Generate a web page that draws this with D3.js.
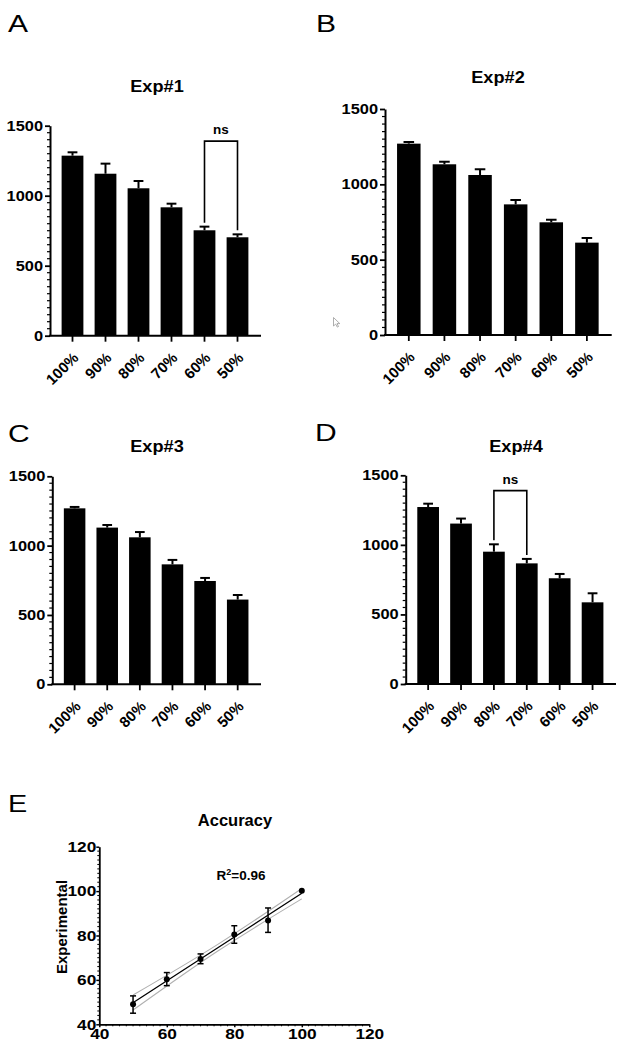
<!DOCTYPE html>
<html><head><meta charset="utf-8">
<script src="https://cdn.jsdelivr.net/npm/d3@7"></script>
<style>
body{margin:0;background:#fff}
svg text{font-family:"Liberation Sans",Arial,Helvetica,sans-serif;fill:#000}
</style>
</head><body>
<svg id="c" width="625" height="1050"></svg>
<script>
// ---------- DATA ----------
const categories = ["100%","90%","80%","70%","60%","50%"];
const barTicks = [0,500,1000,1500];

const exp1Means = [1286,1157,1053,917,753,703];
const exp1Err   = [24,72,52,26,26,21];
const exp2Means = [1270,1133,1062,867,748,613];
const exp2Err   = [11,17,38,29,17,31];
const exp3Means = [1269,1130,1060,865,745,611];
const exp3Err   = [10,19,38,32,22,33];
const exp4Means = [1272,1153,951,867,760,587];
const exp4Err   = [24,36,53,32,31,65];

const exp1NsPair = ["60%","50%"];
const exp4NsPair = ["80%","70%"];
const bracketLevel = 1390;

const accTicks = [40,60,80,100,120];
const expectedPct   = [50,60,70,80,90,100];
const measuredPct   = [49.0,60.3,69.4,80.4,86.8,100.2];
const measuredErrUp = [3.8,3.0,2.3,4.0,5.6,0];
const measuredErrDn = [4.0,2.9,2.1,3.9,5.4,0];
const fitX     = [50,75,100];
const fitY     = [49.7,74.4,99.0];
const bandHiY  = [53.2,75.9,101.2];
const bandLoY  = [46.4,72.9,96.5];

// ---------- HELPERS ----------
const svg = d3.select("#c");
function stretch(sel, k){
  sel.each(function(){
    const L = this.getComputedTextLength();
    d3.select(this).attr("textLength", L*k).attr("lengthAdjust","spacingAndGlyphs");
  });
}

// ---------- BAR PANELS ----------
const panels = [
  {letter:"A", lx:8,   ly:32,  title:"Exp#1", tx:157, ty:92,  means:exp1Means, errs:exp1Err, x0:50,    x1:261,   yTop:125.7, yBot:335.7, ns:exp1NsPair},
  {letter:"B", lx:316, ly:32,  title:"Exp#2", tx:498, ty:83,  means:exp2Means, errs:exp2Err, x0:385,   x1:611.7, yTop:109,   yBot:335,   ns:null},
  {letter:"C", lx:8,   ly:442, title:"Exp#3", tx:157, ty:452, means:exp3Means, errs:exp3Err, x0:52.3,  x1:261,   yTop:476.3, yBot:684.3, ns:null},
  {letter:"D", lx:315, ly:441, title:"Exp#4", tx:516, ty:452, means:exp4Means, errs:exp4Err, x0:405.7, x1:616,   yTop:475.3, yBot:684,   ns:exp4NsPair}
];

panels.forEach(p => {
  const g = svg.append("g");
  const y = d3.scaleLinear().domain([0,1500]).range([p.yBot, p.yTop]);
  const x = d3.scaleBand().domain(categories).range([p.x0+6, p.x1-7]).paddingInner(0.34).paddingOuter(0.17);

  g.append("text").attr("x",p.lx).attr("y",p.ly).attr("font-size",24).text(p.letter).call(stretch,1.25);
  g.append("text").attr("x",p.tx).attr("y",p.ty).attr("text-anchor","middle").attr("font-size",16.5).attr("font-weight","bold").text(p.title).call(stretch,1.1);

  const data = categories.map((c,i)=>({c, m:p.means[i], e:p.errs[i]}));

  g.selectAll("rect.bar").data(data).join("rect")
    .attr("x",d=>x(d.c)).attr("width",x.bandwidth())
    .attr("y",d=>y(d.m)).attr("height",d=>y(0)-y(d.m))
    .attr("fill","#000");
  const cw = x.bandwidth()*0.45;
  g.selectAll("line.err").data(data).join("line")
    .attr("x1",d=>x(d.c)+x.bandwidth()/2).attr("x2",d=>x(d.c)+x.bandwidth()/2)
    .attr("y1",d=>y(d.m)).attr("y2",d=>y(d.m+d.e))
    .attr("stroke","#000").attr("stroke-width",2);
  g.selectAll("line.cap").data(data).join("line")
    .attr("x1",d=>x(d.c)+x.bandwidth()/2-cw/2).attr("x2",d=>x(d.c)+x.bandwidth()/2+cw/2)
    .attr("y1",d=>y(d.m+d.e)).attr("y2",d=>y(d.m+d.e))
    .attr("stroke","#000").attr("stroke-width",2);

  const minor = y.ticks(30).filter(v=>!barTicks.includes(v));
  g.selectAll("line.minor").data(minor).join("line")
    .attr("x1",p.x0-3).attr("x2",p.x0).attr("y1",d=>y(d)).attr("y2",d=>y(d))
    .attr("stroke","#000").attr("stroke-width",1.2);
  const ya = g.append("g").attr("transform",`translate(${p.x0},0)`)
    .call(d3.axisLeft(y).tickValues(barTicks).tickSize(5).tickSizeOuter(0).tickPadding(2).tickFormat(d3.format("d")));
  ya.select(".domain").attr("stroke-width",2);
  ya.selectAll(".tick line").attr("stroke-width",1.8);
  ya.selectAll("text").attr("font-size",14).attr("font-weight","bold").attr("font-family",null).call(stretch,1.17);

  const xa = g.append("g").attr("transform",`translate(0,${y(0)})`)
    .call(d3.axisBottom(x).tickSize(6).tickSizeOuter(0));
  xa.select(".domain").remove();
  xa.selectAll(".tick line").attr("stroke-width",1.8);
  xa.selectAll("text").attr("x",0).attr("y",0).attr("dy",0)
    .attr("transform","translate(7,23) rotate(-45)")
    .attr("text-anchor","end").attr("font-size",15).attr("font-weight","bold").attr("font-family",null);
  g.append("line").attr("x1",p.x0-1).attr("x2",p.x1).attr("y1",y(0)).attr("y2",y(0))
    .attr("stroke","#000").attr("stroke-width",2);

  if (p.ns){
    const [a,b] = p.ns;
    const da = data.find(d=>d.c===a), db = data.find(d=>d.c===b);
    const xa1 = x(a)+x.bandwidth()/2, xb1 = x(b)+x.bandwidth()/2;
    const top = y(bracketLevel);
    g.append("path")
      .attr("d",`M${xa1},${y(da.m+da.e)-4}V${top}H${xb1}V${y(db.m+db.e)-4}`)
      .attr("fill","none").attr("stroke","#000").attr("stroke-width",1.6);
    g.append("text").attr("x",(xa1+xb1)/2).attr("y",top-7).attr("text-anchor","middle")
      .attr("font-size",13.5).attr("font-weight","bold").text("ns");
  }
});

// cursor artifact in panel B
svg.append("path").attr("transform","translate(333.5,317.5)")
  .attr("d","M0,0V8.5L2.2,6.6L3.8,9.6L5,9L3.5,6.1H6.3Z")
  .attr("fill","#fff").attr("stroke","#999").attr("stroke-width",0.8);

// ---------- PANEL E ----------
const ge = svg.append("g");
const xE = d3.scaleLinear().domain([40,120]).range([99.3,369.3]);
const yE = d3.scaleLinear().domain([40,120]).range([1024.3,846.7]);

ge.append("text").attr("x",8).attr("y",812).attr("font-size",24).text("E").call(stretch,1.2);
ge.append("text").attr("x",235).attr("y",826).attr("text-anchor","middle").attr("font-size",16.5).attr("font-weight","bold").text("Accuracy");
const r2 = ge.append("text").attr("x",241).attr("y",880).attr("text-anchor","middle").attr("font-size",13.5).attr("font-weight","bold");
r2.append("tspan").text("R");
r2.append("tspan").attr("dy",-5).attr("font-size",9).text("2");
r2.append("tspan").attr("dy",5).text("=0.96");
ge.append("text").attr("transform","translate(67,927) rotate(-90)").attr("text-anchor","middle")
  .attr("font-size",15).attr("font-weight","bold").text("Experimental");

const minorE = d3.range(40,121,2).filter(v=>!accTicks.includes(v));
ge.selectAll("line.mx").data(minorE).join("line")
  .attr("x1",d=>xE(d)).attr("x2",d=>xE(d)).attr("y1",yE(40)).attr("y2",yE(40)+2)
  .attr("stroke","#000").attr("stroke-width",1);
ge.selectAll("line.my").data(minorE).join("line")
  .attr("x1",xE(40)-2).attr("x2",xE(40)).attr("y1",d=>yE(d)).attr("y2",d=>yE(d))
  .attr("stroke","#000").attr("stroke-width",1);

const xaE = ge.append("g").attr("transform",`translate(0,${yE(40)})`)
  .call(d3.axisBottom(xE).tickValues(accTicks).tickSize(3).tickSizeOuter(0).tickPadding(1));
const yaE = ge.append("g").attr("transform",`translate(${xE(40)},0)`)
  .call(d3.axisLeft(yE).tickValues(accTicks).tickSize(3).tickSizeOuter(0).tickPadding(0));
[xaE,yaE].forEach(a=>{
  a.select(".domain").attr("stroke-width",1.8);
  a.selectAll(".tick line").attr("stroke-width",1.5);
  a.selectAll("text").attr("font-size",15).attr("font-weight","bold").attr("font-family",null).call(stretch,1.15);
});

const lineGen = d3.line().x(d=>xE(d[0])).y(d=>yE(d[1])).curve(d3.curveNatural);
ge.append("path").attr("d",lineGen(fitX.map((v,i)=>[v,bandHiY[i]]))).attr("fill","none").attr("stroke","#b0b0b0").attr("stroke-width",1.1);
ge.append("path").attr("d",lineGen(fitX.map((v,i)=>[v,bandLoY[i]]))).attr("fill","none").attr("stroke","#b0b0b0").attr("stroke-width",1.1);
ge.append("path").attr("d",lineGen(fitX.map((v,i)=>[v,fitY[i]]))).attr("fill","none").attr("stroke","#000").attr("stroke-width",1.3);

const pts = expectedPct.map((v,i)=>({x:v, y:measuredPct[i], up:measuredErrUp[i], dn:measuredErrDn[i]}));
const ep = pts.filter(d=>d.up>0||d.dn>0);
ge.selectAll("line.ev").data(ep).join("line")
  .attr("x1",d=>xE(d.x)).attr("x2",d=>xE(d.x)).attr("y1",d=>yE(d.y-d.dn)).attr("y2",d=>yE(d.y+d.up))
  .attr("stroke","#000").attr("stroke-width",1.5);
["up","dn"].forEach(k=>{
  ge.selectAll("line.c"+k).data(ep).join("line")
    .attr("x1",d=>xE(d.x)-3).attr("x2",d=>xE(d.x)+3)
    .attr("y1",d=>yE(k==="up"?d.y+d.up:d.y-d.dn)).attr("y2",d=>yE(k==="up"?d.y+d.up:d.y-d.dn))
    .attr("stroke","#000").attr("stroke-width",1.5);
});
ge.selectAll("circle").data(pts).join("circle")
  .attr("cx",d=>xE(d.x)).attr("cy",d=>yE(d.y)).attr("r",3).attr("fill","#000");
</script>
</body></html>
